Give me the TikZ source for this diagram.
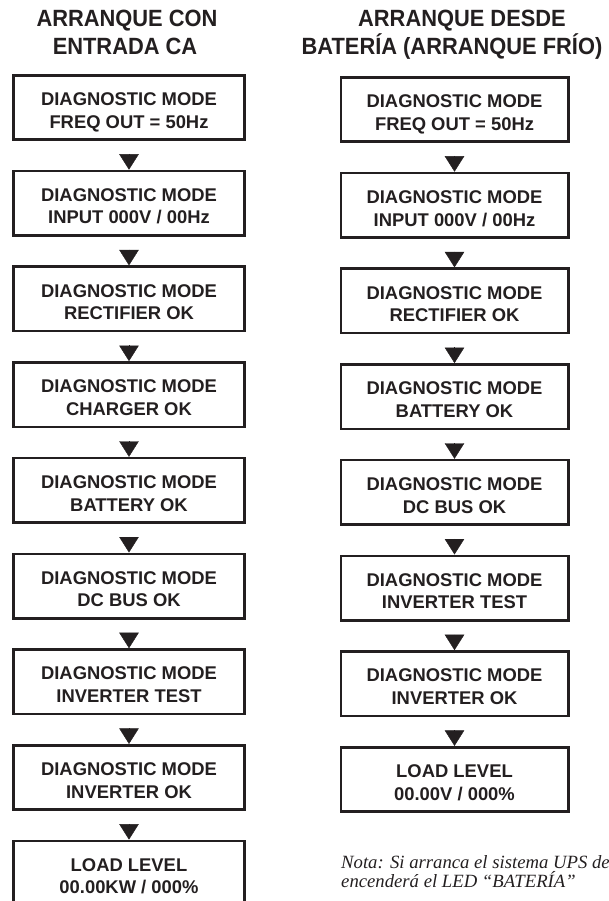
\documentclass[tikz,border=0pt]{standalone}
\usepackage{fontspec}
\usetikzlibrary{arrows.meta,calc}
\newfontfamily\boxfont{Liberation Sans}
\newfontfamily\titlefont[FakeStretch=0.93]{Liberation Sans}
\newfontfamily\notefont{Liberation Serif}
\definecolor{ink}{HTML}{231F20}

% one display panel: style, name, x centre, top edge, first line, second line
\newcommand\lcdpanel[6]{%
  \node[#1] (#2) at (#3,#4+33.5) {};
  \node[lcd] (#2-a) at ($(#2.center)+(0,-1.8)$) {#5};
  \node[lcd] (#2-b) at ($(#2.center)+(0,20.8)$) {#6};
}

\begin{document}
\begin{tikzpicture}[x=1pt,y=-1pt,
  panel/.style={draw=ink,line width=2.6pt,inner sep=0pt,minimum height=64.4pt},
  leftpanel/.style={panel,minimum width=231.4pt},
  rightpanel/.style={panel,minimum width=227.4pt},
  lcd/.style={text=ink,font=\boxfont\bfseries\fontsize{18.4}{22}\selectfont,inner sep=0pt,anchor=base},
  heading/.style={text=ink,font=\titlefont\bfseries\fontsize{23.5}{28}\selectfont,inner sep=0pt,anchor=base},
  note/.style={text=ink,font=\notefont\itshape\fontsize{18.7}{19}\selectfont,inner sep=0pt,anchor=base west},
  flow/.style={draw=ink,line width=0.4pt,-{Triangle[width=19.5pt,length=15.5pt]},shorten <=13pt}
]
\clip (0,0) rectangle (608,901);

% headings
\node[heading] (hl1) at (127,27) {ARRANQUE CON};
\node[heading] (hl2) at (125,55) {ENTRADA CA};
\node[heading] (hr1) at (462,27) {ARRANQUE DESDE};
\node[heading] (hr2) at (452,55) {BATERÍA (ARRANQUE FRÍO)};

% start with mains input
\lcdpanel{leftpanel}{L1}{129}{74}{DIAGNOSTIC MODE}{FREQ OUT = 50Hz}
\lcdpanel{leftpanel}{L2}{129}{169.7}{DIAGNOSTIC MODE}{INPUT 000V / 00Hz}
\lcdpanel{leftpanel}{L3}{129}{265.4}{DIAGNOSTIC MODE}{RECTIFIER OK}
\lcdpanel{leftpanel}{L4}{129}{361.1}{DIAGNOSTIC MODE}{CHARGER OK}
\lcdpanel{leftpanel}{L5}{129}{456.8}{DIAGNOSTIC MODE}{BATTERY OK}
\lcdpanel{leftpanel}{L6}{129}{552.5}{DIAGNOSTIC MODE}{DC BUS OK}
\lcdpanel{leftpanel}{L7}{129}{648.2}{DIAGNOSTIC MODE}{INVERTER TEST}
\lcdpanel{leftpanel}{L8}{129}{743.9}{DIAGNOSTIC MODE}{INVERTER OK}
\lcdpanel{leftpanel}{L9}{129}{839.6}{LOAD LEVEL}{00.00KW / 000\%}

% cold start from battery
\lcdpanel{rightpanel}{R1}{454.5}{76}{DIAGNOSTIC MODE}{FREQ OUT = 50Hz}
\lcdpanel{rightpanel}{R2}{454.5}{171.7}{DIAGNOSTIC MODE}{INPUT 000V / 00Hz}
\lcdpanel{rightpanel}{R3}{454.5}{267.4}{DIAGNOSTIC MODE}{RECTIFIER OK}
\lcdpanel{rightpanel}{R4}{454.5}{363.1}{DIAGNOSTIC MODE}{BATTERY OK}
\lcdpanel{rightpanel}{R5}{454.5}{458.8}{DIAGNOSTIC MODE}{DC BUS OK}
\lcdpanel{rightpanel}{R6}{454.5}{554.5}{DIAGNOSTIC MODE}{INVERTER TEST}
\lcdpanel{rightpanel}{R7}{454.5}{650.2}{DIAGNOSTIC MODE}{INVERTER OK}
\lcdpanel{rightpanel}{R8}{454.5}{745.9}{LOAD LEVEL}{00.00V / 000\%}

% sequence arrows
\draw[flow] (L1) -- (L2);
\draw[flow] (L2) -- (L3);
\draw[flow] (L3) -- (L4);
\draw[flow] (L4) -- (L5);
\draw[flow] (L5) -- (L6);
\draw[flow] (L6) -- (L7);
\draw[flow] (L7) -- (L8);
\draw[flow] (L8) -- (L9);
\draw[flow] (R1) -- (R2);
\draw[flow] (R2) -- (R3);
\draw[flow] (R3) -- (R4);
\draw[flow] (R4) -- (R5);
\draw[flow] (R5) -- (R6);
\draw[flow] (R6) -- (R7);
\draw[flow] (R7) -- (R8);

% footnote
\node[note] (n1) at (341,868) {Nota: Si arranca el sistema UPS de};
\node[note] (n2) at (341,887) {encenderá el LED “BATERÍA”};
\end{tikzpicture}
\end{document}
